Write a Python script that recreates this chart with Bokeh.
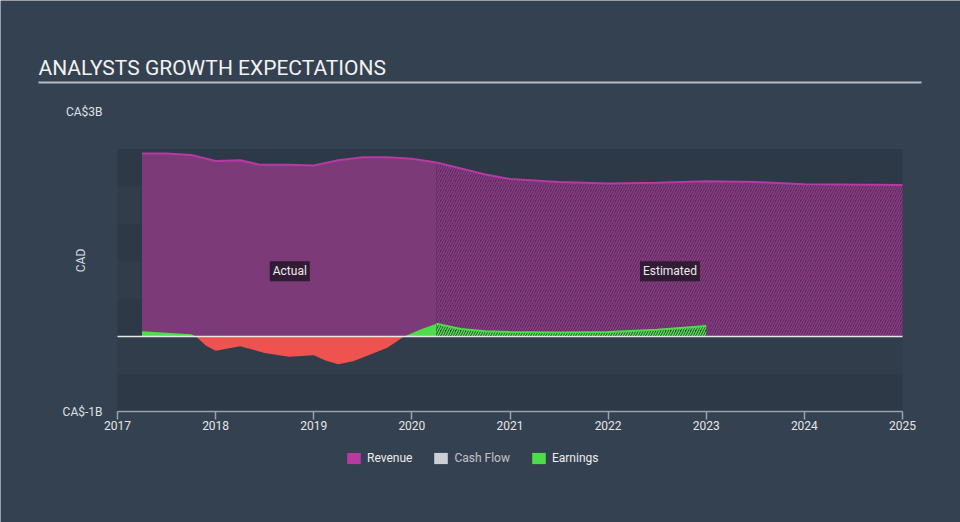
import numpy as np
from bokeh.plotting import figure
from bokeh.models import FixedTicker, Label, BoxAnnotation, Legend, LegendItem, LinearAxis
from bokeh.embed import file_html
from bokeh.resources import INLINE

# ---------------- data ----------------
title_text = "ANALYSTS GROWTH EXPECTATIONS"
y_axis_label = "CAD"
x_ticks = [2017, 2018, 2019, 2020, 2021, 2022, 2023, 2024, 2025]
y_ticks = [-1, 3]
y_tick_labels = {-1: "CA$-1B", 3: "CA$3B"}

# values in billions CAD, time in fractional years
revenue_actual_t = [2017.25, 2017.5, 2017.75, 2018.0, 2018.25, 2018.45, 2018.75, 2019.0,
                    2019.25, 2019.5, 2019.75, 2020.0, 2020.25]
revenue_actual_v = [2.44, 2.44, 2.42, 2.34, 2.35, 2.29, 2.29, 2.28,
                    2.35, 2.39, 2.39, 2.37, 2.32]
revenue_est_t = [2020.25, 2020.5, 2020.75, 2021.0, 2021.5, 2022.0, 2022.5, 2023.0,
                 2023.5, 2024.0, 2025.0]
revenue_est_v = [2.32, 2.24, 2.16, 2.10, 2.06, 2.04, 2.05, 2.07, 2.06, 2.03, 2.02]

earnings_actual_t = [2017.25, 2017.5, 2017.75, 2017.8, 2017.9, 2018.0, 2018.25, 2018.5,
                     2018.75, 2019.0, 2019.12, 2019.25, 2019.4, 2019.5, 2019.75, 2019.92,
                     2020.1, 2020.25]
earnings_actual_v = [0.07, 0.05, 0.03, 0.0, -0.12, -0.19, -0.13, -0.22,
                     -0.27, -0.25, -0.32, -0.37, -0.33, -0.28, -0.15, 0.0,
                     0.10, 0.17]
earnings_est_t = [2020.25, 2020.5, 2020.75, 2021.0, 2021.5, 2022.0, 2022.5, 2023.0]
earnings_est_v = [0.17, 0.10, 0.07, 0.06, 0.055, 0.06, 0.09, 0.14]

legend_labels = ["Revenue", "Cash Flow", "Earnings"]
region_labels = ["Actual", "Estimated"]
region_label_x = [2018.756, 2022.63]
region_label_y = 0.87

# ---------------- layout / styles ----------------
W, H = 960, 522
PX_LEFT, PX_RIGHT = 117, 902      # pixel positions of first / last x tick
PX_ZERO, PX_PER_B = 336, 75.0     # pixel row of value 0, pixels per billion
px_per_year = (PX_RIGHT - PX_LEFT) / (x_ticks[-1] - x_ticks[0])
x_start = x_ticks[0] - PX_LEFT / px_per_year
x_end = x_ticks[-1] + (W - PX_RIGHT) / px_per_year
y_end = PX_ZERO / PX_PER_B
y_start = -(H - PX_ZERO) / PX_PER_B

BG = "#344150"
BAND_DARK = "#2d3947"
BAND_LIGHT = "#313d4b"
REV_LINE = "#b53aa2"
REV_FILL = "#7c3a78"
REV_EST_FILL = "#532c59"
REV_EST_HATCH = "#8a3a82"
EARN_GREEN = "#4fdc4a"
EARN_RED = "#ef5350"
AXIS_COL = "#98a3ae"
FONT = "Roboto"

p = figure(width=W, height=H, x_range=(x_start, x_end), y_range=(y_start, y_end),
           output_backend="svg", toolbar_location=None, title=None,
           x_axis_location=None, y_axis_location=None,
           min_border=0)
p.background_fill_color = BG
p.border_fill_color = BG
p.outline_line_color = None
p.grid.visible = False

# background bands (every 0.5B from -1 to 2.5)
for i, b in enumerate(np.arange(-1.0, 2.5, 0.5)):
    col = BAND_DARK if i % 2 == 0 else BAND_LIGHT
    p.add_layout(BoxAnnotation(left=x_ticks[0], right=x_ticks[-1], bottom=b, top=b + 0.5,
                               fill_color=col, fill_alpha=1, line_color=None,
                               level="underlay"))

# revenue areas
p.varea(x=revenue_actual_t, y1=0, y2=revenue_actual_v, fill_color=REV_FILL)
p.varea(x=revenue_est_t, y1=0, y2=revenue_est_v, fill_color=REV_EST_FILL,
        hatch_pattern="/", hatch_color=REV_EST_HATCH, hatch_scale=5, hatch_weight=1.5)

# earnings areas
ea = np.array(earnings_actual_v)
p.varea(x=earnings_actual_t, y1=0, y2=np.clip(ea, 0, None), fill_color=EARN_GREEN)
p.varea(x=earnings_actual_t, y1=0, y2=np.clip(ea, None, 0), fill_color=EARN_RED)
p.varea(x=earnings_est_t, y1=0, y2=earnings_est_v, fill_color="#303c44",
        hatch_pattern="/", hatch_color=EARN_GREEN, hatch_scale=5, hatch_weight=1.5)
p.line(x=earnings_est_t, y=earnings_est_v, line_color=EARN_GREEN, line_width=2)

# revenue lines
p.line(x=revenue_actual_t, y=revenue_actual_v, line_color=REV_LINE, line_width=2)
p.line(x=revenue_est_t, y=revenue_est_v, line_color=REV_LINE, line_width=2)

# zero line
p.segment(x0=[x_ticks[0]], y0=[0], x1=[x_ticks[-1]], y1=[0],
          line_color="#e8e8e8", line_width=1.5)

# axes (placed at fixed data locations)
xa = LinearAxis(fixed_location=y_ticks[0], bounds=(x_ticks[0], x_ticks[-1]),
                ticker=FixedTicker(ticks=x_ticks))
xa.axis_line_color = AXIS_COL
xa.axis_line_width = 1.5
xa.major_tick_line_color = AXIS_COL
xa.major_tick_line_width = 1.5
xa.minor_tick_line_color = None
xa.major_tick_in = 0
xa.major_tick_out = 8
xa.major_label_standoff = 1
xa.major_label_text_color = "#e6e6e6"
xa.major_label_text_font = FONT
xa.major_label_text_font_size = "12px"
p.add_layout(xa, "below")

ya = LinearAxis(fixed_location=x_ticks[0], ticker=FixedTicker(ticks=y_ticks))
ya.major_label_overrides = y_tick_labels
ya.axis_line_color = None
ya.major_tick_line_color = None
ya.minor_tick_line_color = None
ya.major_tick_out = 0
ya.major_tick_in = 0
ya.major_label_standoff = 15
ya.major_label_text_color = "#dde0e4"
ya.major_label_text_font = FONT
ya.major_label_text_font_size = "12px"
p.add_layout(ya, "left")

# title and underline
p.add_layout(Label(x=38, y=H - 67, x_units="screen", y_units="screen", text=title_text,
                   text_font=FONT, text_font_size="21px", text_color="#f2f2f2",
                   text_baseline="alphabetic", text_align="left"))
p.add_layout(BoxAnnotation(left=38, right=921, top=H - 81, bottom=H - 83,
                           left_units="screen", right_units="screen",
                           top_units="screen", bottom_units="screen",
                           fill_color="#b4bcc4", fill_alpha=1, line_color=None))
p.add_layout(Label(x=80, y=H - 260, x_units="screen", y_units="screen", text=y_axis_label,
                   angle=np.pi / 2, text_align="center", text_baseline="middle",
                   text_font=FONT, text_font_size="12px", text_color="#d8dce0"))

# region labels
for txt, xpos in zip(region_labels, region_label_x):
    p.add_layout(Label(x=xpos, y=region_label_y, text=txt, text_align="center",
                       text_baseline="middle",
                       text_font=FONT, text_font_size="12px", text_color="#ececec",
                       background_fill_color="#2a1a2e", background_fill_alpha=0.9,
                       padding=3))

# legend (proxy renderers that draw nothing in the plot area)
nan = [np.nan]
leg_rev = p.quad(left=nan, right=nan, top=nan, bottom=nan,
                 fill_color=REV_LINE, line_color=None)
leg_cf = p.quad(left=nan, right=nan, top=nan, bottom=nan,
                fill_color="#ffffff", line_color=None, visible=False)
leg_earn = p.quad(left=nan, right=nan, top=nan, bottom=nan,
                  fill_color=EARN_GREEN, line_color=None)
legend = Legend(items=[LegendItem(label=legend_labels[0], renderers=[leg_rev]),
                       LegendItem(label=legend_labels[1], renderers=[leg_cf]),
                       LegendItem(label=legend_labels[2], renderers=[leg_earn])],
                orientation="horizontal", location=(345, H - 465),
                glyph_width=17, glyph_height=14, label_height=14, label_standoff=5,
                spacing=20, padding=0, margin=0,
                background_fill_alpha=0, border_line_color=None,
                label_text_font=FONT, label_text_font_size="12px",
                label_text_color="#ededed", click_policy="hide",
                inactive_fill_color=BG, inactive_fill_alpha=0.25)
p.add_layout(legend)

open("out.html", "w").write(file_html(p, INLINE))
